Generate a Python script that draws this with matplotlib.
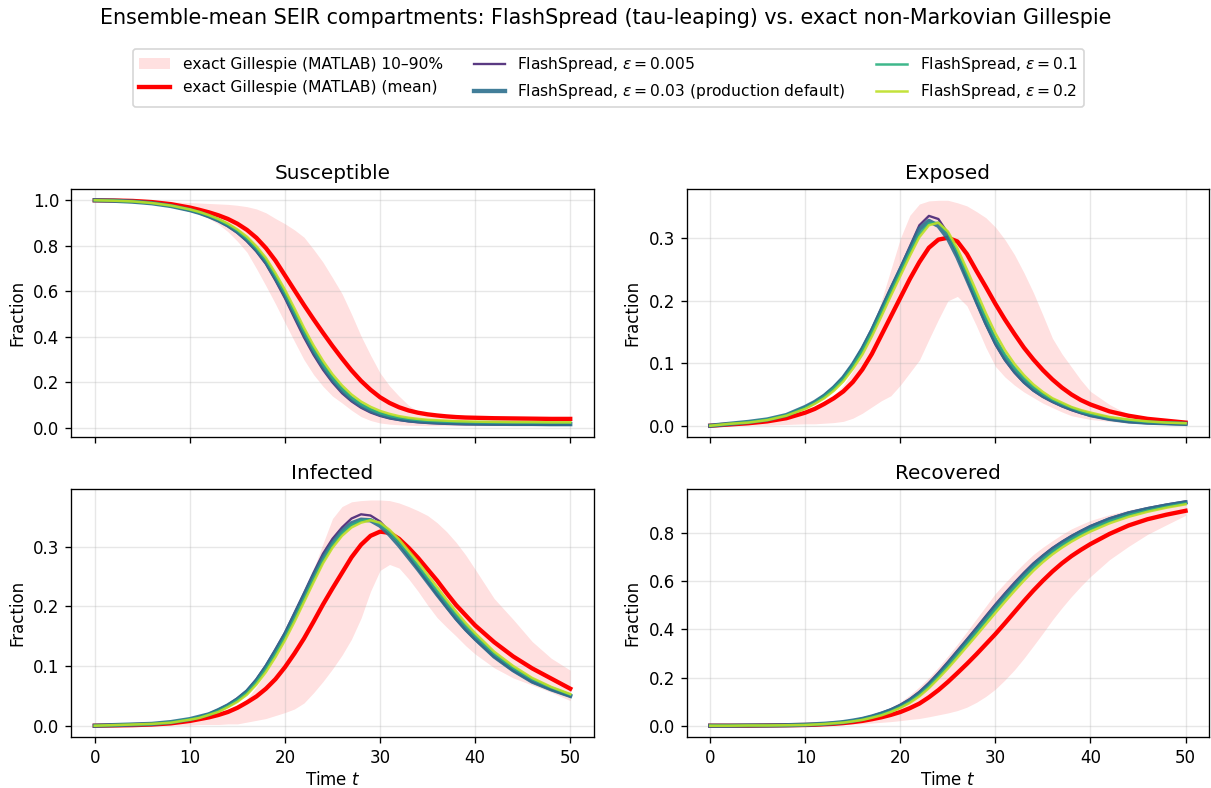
import numpy as np
import matplotlib
matplotlib.use("Agg")
import matplotlib.pyplot as plt

# time grid
t = [0, 2, 4, 6, 8,
     10, 11, 12, 13, 14, 15, 16, 17, 18, 19,
     20, 21, 22, 23, 24, 25, 26, 27, 28, 29,
     30, 31, 32, 33, 34, 35, 36, 37, 38, 39, 40,
     42, 44, 46, 48, 50]

eps_values = [0.005, 0.03, 0.1, 0.2]

# Susceptible
s_lo = [1.0, 0.998, 0.993, 0.985, 0.972,
        0.952, 0.938, 0.92, 0.895, 0.862, 0.82, 0.772, 0.7, 0.624, 0.545,
        0.462, 0.38, 0.3, 0.235, 0.183, 0.14, 0.11, 0.078, 0.05, 0.033,
        0.022, 0.017, 0.014, 0.012, 0.011, 0.01, 0.01, 0.01, 0.01, 0.01, 0.01,
        0.01, 0.01, 0.01, 0.01, 0.01]
s_hi = [1.0, 1.0, 0.999, 0.997, 0.994,
        0.99, 0.988, 0.986, 0.984, 0.982, 0.978, 0.972, 0.962, 0.945, 0.92,
        0.897, 0.87, 0.838, 0.785, 0.728, 0.66, 0.59, 0.5, 0.404, 0.32,
        0.242, 0.185, 0.14, 0.1, 0.072, 0.055, 0.048, 0.045, 0.044, 0.043, 0.043,
        0.042, 0.041, 0.041, 0.04, 0.04]
s_mean = [1.0, 0.999, 0.997, 0.992, 0.983,
          0.968, 0.958, 0.947, 0.934, 0.918, 0.897, 0.870, 0.835, 0.790, 0.735,
          0.67, 0.605, 0.54, 0.478, 0.418, 0.36, 0.305, 0.253, 0.207, 0.168,
          0.135, 0.11, 0.091, 0.077, 0.067, 0.06, 0.055, 0.051, 0.048, 0.046, 0.045,
          0.043, 0.042, 0.041, 0.04, 0.04]
s_eps005 = [1.0, 0.998, 0.993, 0.986, 0.974,
            0.955, 0.943, 0.927, 0.909, 0.886, 0.857, 0.82, 0.775, 0.72, 0.648,
            0.57, 0.483, 0.398, 0.322, 0.256, 0.2, 0.153, 0.117, 0.089, 0.068,
            0.053, 0.042, 0.035, 0.029, 0.025, 0.022, 0.02, 0.018, 0.017, 0.016, 0.016,
            0.015, 0.015, 0.014, 0.014, 0.014]
s_eps03 = [1.0, 0.998, 0.994, 0.987, 0.975,
           0.957, 0.945, 0.93, 0.912, 0.89, 0.862, 0.827, 0.783, 0.73, 0.66,
           0.585, 0.5, 0.415, 0.338, 0.27, 0.212, 0.165, 0.127, 0.098, 0.076,
           0.06, 0.048, 0.04, 0.034, 0.03, 0.027, 0.025, 0.023, 0.022, 0.021, 0.02,
           0.019, 0.018, 0.018, 0.017, 0.017]
s_eps1 = [1.0, 0.998, 0.994, 0.987, 0.975,
          0.958, 0.946, 0.932, 0.914, 0.893, 0.866, 0.832, 0.789, 0.737, 0.668,
          0.594, 0.51, 0.425, 0.348, 0.28, 0.222, 0.174, 0.135, 0.105, 0.083,
          0.066, 0.054, 0.046, 0.04, 0.035, 0.032, 0.03, 0.028, 0.027, 0.026, 0.025,
          0.024, 0.024, 0.023, 0.023, 0.023]
s_eps2 = [1.0, 0.998, 0.995, 0.988, 0.977,
          0.96, 0.949, 0.935, 0.918, 0.898, 0.872, 0.84, 0.798, 0.747, 0.68,
          0.607, 0.525, 0.44, 0.363, 0.295, 0.236, 0.187, 0.147, 0.116, 0.093,
          0.075, 0.062, 0.052, 0.045, 0.04, 0.036, 0.034, 0.032, 0.03, 0.029, 0.028,
          0.027, 0.026, 0.026, 0.025, 0.025]

# Exposed
e_lo = [0.0, 0.0, 0.001, 0.001, 0.002,
        0.003, 0.003, 0.004, 0.005, 0.007, 0.012, 0.02, 0.03, 0.04, 0.048,
        0.065, 0.085, 0.105, 0.138, 0.17, 0.2, 0.207, 0.192, 0.16, 0.125,
        0.095, 0.078, 0.065, 0.054, 0.045, 0.036, 0.029, 0.022, 0.016, 0.013, 0.01,
        0.007, 0.004, 0.003, 0.002, 0.001]
e_hi = [0.0, 0.002, 0.004, 0.007, 0.012,
        0.02, 0.027, 0.036, 0.048, 0.065, 0.088, 0.118, 0.156, 0.2, 0.25,
        0.3, 0.337, 0.355, 0.36, 0.361, 0.361, 0.357, 0.352, 0.343, 0.333,
        0.318, 0.298, 0.274, 0.245, 0.213, 0.177, 0.14, 0.115, 0.094, 0.073, 0.055,
        0.034, 0.018, 0.01, 0.007, 0.005]
e_mean = [0.0, 0.002, 0.004, 0.007, 0.012,
          0.021, 0.027, 0.035, 0.044, 0.055, 0.07, 0.09, 0.115, 0.145, 0.175,
          0.205, 0.235, 0.262, 0.285, 0.298, 0.301, 0.295, 0.275, 0.248, 0.222,
          0.195, 0.17, 0.147, 0.125, 0.106, 0.089, 0.074, 0.061, 0.05, 0.041, 0.034,
          0.023, 0.016, 0.011, 0.008, 0.005]
e_eps005 = [0.0, 0.003, 0.006, 0.01, 0.017,
            0.03, 0.038, 0.049, 0.062, 0.078, 0.099, 0.125, 0.155, 0.188, 0.221,
            0.253, 0.287, 0.321, 0.336, 0.331, 0.308, 0.273, 0.235, 0.197, 0.162,
            0.13, 0.105, 0.085, 0.069, 0.056, 0.046, 0.038, 0.031, 0.025, 0.02, 0.016,
            0.01, 0.006, 0.004, 0.003, 0.002]
e_eps03 = [0.0, 0.003, 0.006, 0.01, 0.017,
           0.03, 0.038, 0.048, 0.061, 0.077, 0.098, 0.123, 0.152, 0.185, 0.218,
           0.25, 0.282, 0.315, 0.328, 0.32, 0.3, 0.27, 0.235, 0.2, 0.165,
           0.134, 0.108, 0.088, 0.071, 0.058, 0.048, 0.04, 0.033, 0.027, 0.022, 0.017,
           0.011, 0.007, 0.005, 0.004, 0.003]
e_eps1 = [0.0, 0.003, 0.006, 0.01, 0.017,
          0.029, 0.037, 0.047, 0.06, 0.075, 0.096, 0.12, 0.149, 0.181, 0.214,
          0.246, 0.278, 0.307, 0.324, 0.325, 0.308, 0.278, 0.243, 0.207, 0.172,
          0.14, 0.114, 0.093, 0.076, 0.062, 0.051, 0.042, 0.035, 0.029, 0.023, 0.019,
          0.013, 0.009, 0.006, 0.005, 0.004]
e_eps2 = [0.0, 0.003, 0.005, 0.009, 0.016,
          0.027, 0.035, 0.044, 0.056, 0.071, 0.091, 0.114, 0.143, 0.175, 0.208,
          0.24, 0.272, 0.302, 0.321, 0.325, 0.311, 0.284, 0.25, 0.215, 0.18,
          0.148, 0.121, 0.099, 0.081, 0.066, 0.054, 0.044, 0.037, 0.03, 0.025, 0.021,
          0.014, 0.01, 0.007, 0.005, 0.004]

# Infected
i_lo = [0.0, 0.0, 0.0, 0.0, 0.001,
        0.001, 0.002, 0.002, 0.002, 0.003, 0.003, 0.006, 0.009, 0.012, 0.017,
        0.022, 0.028, 0.038, 0.055, 0.074, 0.095, 0.118, 0.145, 0.18, 0.225,
        0.26, 0.27, 0.264, 0.246, 0.225, 0.202, 0.181, 0.165, 0.15, 0.134, 0.12,
        0.097, 0.08, 0.068, 0.056, 0.042]
i_hi = [0.0, 0.0005, 0.001, 0.002, 0.004,
        0.008, 0.01, 0.013, 0.017, 0.023, 0.032, 0.045, 0.065, 0.09, 0.117,
        0.148, 0.183, 0.219, 0.262, 0.305, 0.347, 0.367, 0.375, 0.377, 0.378,
        0.378, 0.377, 0.373, 0.367, 0.36, 0.352, 0.34, 0.325, 0.307, 0.286, 0.262,
        0.213, 0.178, 0.141, 0.113, 0.093]
i_mean = [0.0, 0.0005, 0.001, 0.002, 0.004,
          0.008, 0.011, 0.014, 0.018, 0.023, 0.03, 0.039, 0.049, 0.062, 0.078,
          0.098, 0.121, 0.146, 0.174, 0.203, 0.23, 0.256, 0.282, 0.303, 0.318,
          0.325, 0.323, 0.313, 0.298, 0.281, 0.262, 0.243, 0.222, 0.202, 0.185, 0.168,
          0.14, 0.116, 0.096, 0.079, 0.062]
i_eps005 = [0.0, 0.001, 0.002, 0.003, 0.006,
            0.011, 0.015, 0.02, 0.027, 0.035, 0.046, 0.059, 0.078, 0.101, 0.128,
            0.156, 0.189, 0.222, 0.256, 0.288, 0.313, 0.332, 0.347, 0.354, 0.352,
            0.342, 0.325, 0.305, 0.284, 0.262, 0.241, 0.219, 0.198, 0.178, 0.16, 0.144,
            0.115, 0.092, 0.073, 0.06, 0.049]
i_eps03 = [0.0, 0.001, 0.002, 0.003, 0.006,
           0.011, 0.015, 0.019, 0.026, 0.034, 0.044, 0.057, 0.075, 0.098, 0.124,
           0.152, 0.184, 0.217, 0.25, 0.281, 0.306, 0.326, 0.339, 0.345, 0.344,
           0.335, 0.32, 0.302, 0.282, 0.262, 0.241, 0.22, 0.2, 0.18, 0.162, 0.146,
           0.116, 0.093, 0.074, 0.061, 0.05]
i_eps1 = [0.0, 0.001, 0.002, 0.003, 0.006,
          0.011, 0.014, 0.019, 0.025, 0.033, 0.043, 0.055, 0.073, 0.095, 0.12,
          0.148, 0.179, 0.212, 0.245, 0.276, 0.302, 0.322, 0.336, 0.343, 0.345,
          0.338, 0.324, 0.307, 0.288, 0.268, 0.247, 0.226, 0.206, 0.186, 0.168, 0.151,
          0.121, 0.097, 0.078, 0.064, 0.052]
i_eps2 = [0.0, 0.001, 0.002, 0.003, 0.005,
          0.01, 0.013, 0.018, 0.023, 0.031, 0.04, 0.052, 0.069, 0.09, 0.115,
          0.143, 0.174, 0.207, 0.24, 0.272, 0.298, 0.318, 0.332, 0.34, 0.344,
          0.34, 0.328, 0.312, 0.293, 0.274, 0.253, 0.232, 0.211, 0.191, 0.172, 0.155,
          0.124, 0.1, 0.08, 0.065, 0.053]

# Recovered
r_lo = [0.0, 0.0, 0.0, 0.0, 0.001,
        0.001, 0.002, 0.002, 0.003, 0.004, 0.006, 0.008, 0.011, 0.014, 0.017,
        0.021, 0.026, 0.03, 0.037, 0.045, 0.053, 0.063, 0.077, 0.097, 0.122,
        0.152, 0.19, 0.232, 0.28, 0.332, 0.385, 0.44, 0.49, 0.537, 0.58, 0.62,
        0.69, 0.745, 0.795, 0.835, 0.874]
r_hi = [0.0, 0.0, 0.001, 0.002, 0.003,
        0.005, 0.007, 0.01, 0.013, 0.018, 0.025, 0.033, 0.043, 0.057, 0.076,
        0.099, 0.128, 0.162, 0.2, 0.243, 0.29, 0.339, 0.391, 0.444, 0.497,
        0.55, 0.593, 0.635, 0.675, 0.712, 0.742, 0.769, 0.795, 0.818, 0.836, 0.853,
        0.877, 0.896, 0.912, 0.926, 0.938]
r_mean = [0.0, 0.0, 0.0, 0.001, 0.002,
          0.003, 0.004, 0.006, 0.008, 0.011, 0.015, 0.02, 0.027, 0.035, 0.045,
          0.057, 0.073, 0.092, 0.118, 0.148, 0.182, 0.219, 0.257, 0.297, 0.339,
          0.381, 0.426, 0.472, 0.518, 0.562, 0.603, 0.641, 0.675, 0.705, 0.731, 0.755,
          0.797, 0.832, 0.858, 0.877, 0.893]
r_eps005 = [0.0, 0.0, 0.001, 0.001, 0.002,
            0.004, 0.006, 0.009, 0.012, 0.016, 0.022, 0.03, 0.04, 0.053, 0.068,
            0.087, 0.111, 0.141, 0.178, 0.22, 0.265, 0.312, 0.359, 0.407, 0.456,
            0.504, 0.55, 0.594, 0.636, 0.675, 0.708, 0.739, 0.765, 0.789, 0.81, 0.83,
            0.862, 0.886, 0.904, 0.919, 0.932]
r_eps03 = [0.0, 0.0, 0.001, 0.001, 0.002,
           0.004, 0.006, 0.008, 0.011, 0.015, 0.021, 0.028, 0.038, 0.05, 0.064,
           0.082, 0.105, 0.134, 0.17, 0.211, 0.256, 0.303, 0.35, 0.397, 0.446,
           0.494, 0.54, 0.584, 0.627, 0.667, 0.701, 0.732, 0.759, 0.783, 0.805, 0.825,
           0.857, 0.882, 0.9, 0.915, 0.928]
r_eps1 = [0.0, 0.0, 0.001, 0.001, 0.002,
          0.004, 0.006, 0.008, 0.011, 0.014, 0.02, 0.026, 0.036, 0.047, 0.06,
          0.078, 0.1, 0.128, 0.163, 0.204, 0.247, 0.293, 0.34, 0.387, 0.435,
          0.482, 0.528, 0.573, 0.616, 0.656, 0.691, 0.722, 0.75, 0.774, 0.796, 0.816,
          0.849, 0.875, 0.894, 0.91, 0.924]
r_eps2 = [0.0, 0.0, 0.001, 0.001, 0.002,
          0.003, 0.005, 0.007, 0.01, 0.013, 0.018, 0.024, 0.033, 0.043, 0.057,
          0.074, 0.095, 0.122, 0.156, 0.196, 0.238, 0.283, 0.329, 0.375, 0.422,
          0.469, 0.515, 0.56, 0.603, 0.644, 0.68, 0.712, 0.74, 0.765, 0.787, 0.807,
          0.841, 0.868, 0.889, 0.906, 0.92]

panels = [
    ("Susceptible", s_lo, s_hi, s_mean, [s_eps005, s_eps03, s_eps1, s_eps2]),
    ("Exposed", e_lo, e_hi, e_mean, [e_eps005, e_eps03, e_eps1, e_eps2]),
    ("Infected", i_lo, i_hi, i_mean, [i_eps005, i_eps03, i_eps1, i_eps2]),
    ("Recovered", r_lo, r_hi, r_mean, [r_eps005, r_eps03, r_eps1, r_eps2]),
]

W, H = 1211, 788
fig = plt.figure(figsize=(W / 120, H / 120), dpi=120)

# axes boxes in pixels: left, top, right, bottom
boxes = [(71, 189, 594, 437), (686.5, 189, 1209.3, 437),
         (71, 488.7, 594, 737), (686.5, 488.7, 1209.3, 737)]

colors = plt.cm.viridis(np.linspace(0.1, 0.9, 4))
widths = [1.4, 2.6, 1.5, 1.5]

axes = []
for k, (name, lo, hi, mean, fs) in enumerate(panels):
    x0, y0, x1, y1 = boxes[k]
    ax = fig.add_axes([x0 / W, 1 - y1 / H, (x1 - x0) / W, (y1 - y0) / H])
    axes.append(ax)

    ax.fill_between(t, lo, hi, color="red", alpha=0.12, linewidth=0,
                    label="exact Gillespie (MATLAB) 10–90%")
    ax.plot(t, mean, color="red", lw=2.6, label="exact Gillespie (MATLAB) (mean)")
    for j, eps in enumerate(eps_values):
        label = r"FlashSpread, $\varepsilon = %s$" % eps
        if eps == 0.03:
            label += " (production default)"
        ax.plot(t, fs[j], color=colors[j], lw=widths[j], alpha=0.9, label=label)

    ax.set_title(name)
    ax.set_ylabel("Fraction")
    ax.grid(True, alpha=0.3)
    ax.set_xlim(-2.5, 52.5)
    ax.set_xticks([0, 10, 20, 30, 40, 50])
    if k < 2:
        ax.tick_params(labelbottom=False)
    else:
        ax.set_xlabel("Time $t$", labelpad=2.5)

handles, labels = axes[0].get_legend_handles_labels()
fig.legend(handles, labels, loc="upper center", bbox_to_anchor=(0.5025, 1 - 49 / H),
           ncol=3, borderaxespad=0, fontsize=9.3)
fig.suptitle("Ensemble-mean SEIR compartments: FlashSpread (tau-leaping) vs. exact non-Markovian Gillespie",
             fontsize=12.4, y=0.99)

fig.savefig("out.png", dpi=120)
